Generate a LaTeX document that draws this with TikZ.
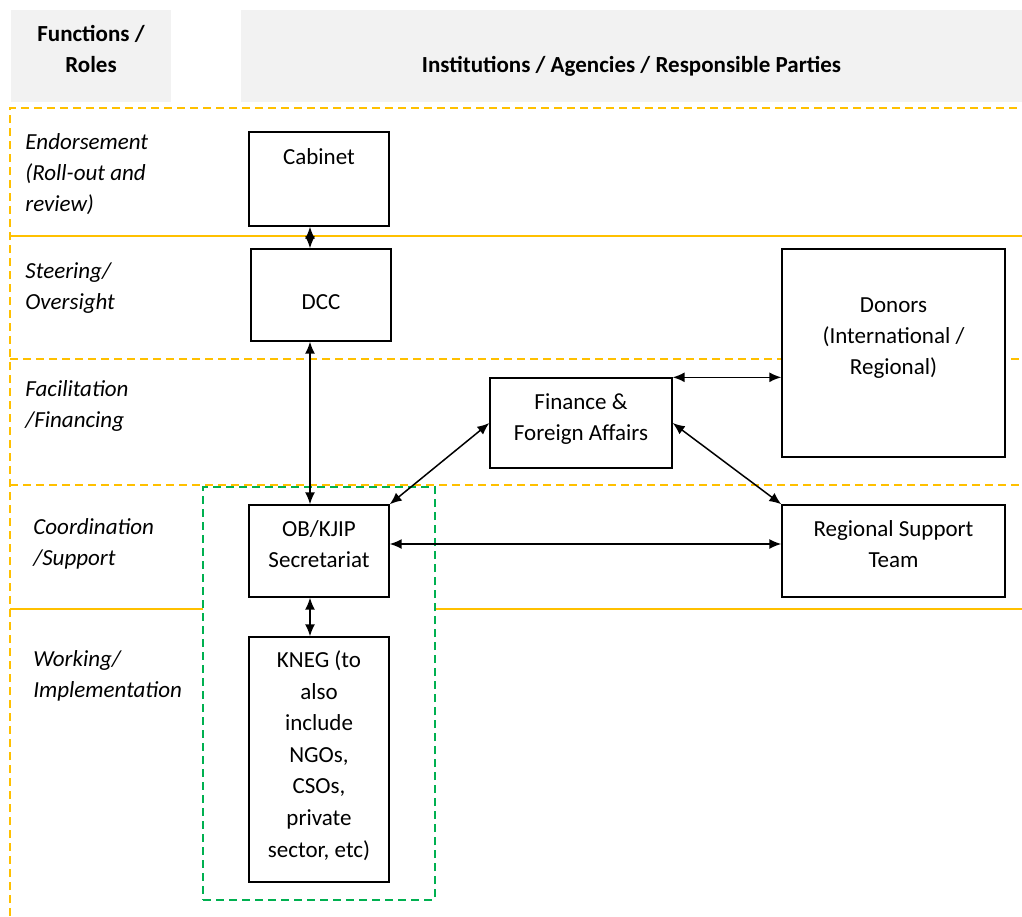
\documentclass[tikz,border=0pt]{standalone}
\usepackage{fontspec}
\setmainfont{Carlito}
\usetikzlibrary{arrows.meta,fit,backgrounds}
\definecolor{gold}{HTML}{FFC000}
\definecolor{grpgreen}{HTML}{00B050}
\definecolor{headgray}{HTML}{F2F2F2}
\begin{document}
\begin{tikzpicture}[x=0.5pt, y=-0.5pt,
    every node/.style={font=\fontsize{11.5}{15.5}\selectfont},
    box/.style={draw, fill=white, line width=0.7pt, inner sep=0pt},
    head/.style={fill=headgray, inner sep=0pt},
    boxtext/.style={align=center, inner sep=0pt},
    headtext/.style={align=center, inner sep=0pt, font=\fontsize{11.5}{15.5}\selectfont\bfseries},
    role/.style={anchor=north west, align=left, inner sep=0pt, font=\fontsize{11.5}{15.5}\selectfont\itshape},
    arr/.style={{Latex[length=6pt,width=5pt]}-{Latex[length=6pt,width=5pt]}, line width=0.75pt},
    band/.style={gold, line width=1pt},
    banddash/.style={gold, line width=0.8pt, dash pattern=on 4pt off 2.5pt},
    grp/.style={draw=grpgreen, fill=white, line width=1pt, dash pattern=on 4pt off 2.5pt,
      inner xsep=22.5pt, inner ysep=8.5pt},
  ]
  \useasboundingbox (0,0) rectangle (1022,916);

  % Header
  \node[head, minimum width=80pt, minimum height=46pt,
    label={[headtext, yshift=3.75pt]center:{Functions /\\Roles}}] (hfun) at (91,56) {};
  \node[head, minimum width=390.5pt, minimum height=46pt,
    label={[headtext, yshift=-5pt]center:Institutions / Agencies / Responsible Parties}] (hinst) at (631.5,56) {};

  % Functions / roles
  \node[role] (rend) at (25,133) {Endorsement\\(Roll-out and\\review)};
  \node[role] (rste) at (25,262) {Steering/\\Oversight};
  \node[role] (rfac) at (25,380) {Facilitation\\/Financing};
  \node[role] (rcoo) at (33,518) {Coordination\\/Support};
  \node[role] (rwor) at (33,650) {Working/\\Implementation};

  % Institutions
  \node[box, minimum width=70pt, minimum height=47pt,
    label={[boxtext, yshift=11pt]center:Cabinet}] (cab) at (319,179) {};
  \node[box, minimum width=70pt, minimum height=46pt,
    label={[boxtext, yshift=-3.5pt]center:DCC}] (dcc) at (321,295) {};
  \node[box, minimum width=91pt, minimum height=45pt,
    label={[boxtext, yshift=2pt]center:{Finance \&\\Foreign Affairs}}] (fin) at (581,423) {};
  \node[box, minimum width=111.5pt, minimum height=104pt,
    label={[boxtext, yshift=7.5pt]center:{Donors\\(International /\\Regional)}}] (don) at (893.5,353) {};
  \node[box, minimum width=70pt, minimum height=46pt,
    label={[boxtext, yshift=3.5pt]center:{OB/KJIP\\Secretariat}}] (ob) at (319,551) {};
  \node[box, minimum width=111.5pt, minimum height=46pt,
    label={[boxtext, yshift=3.5pt]center:{Regional Support\\Team}}] (reg) at (893.5,551) {};
  \node[box, minimum width=70pt, minimum height=122.5pt,
    label={[boxtext, yshift=2pt, font=\fontsize{11.5}{15.8}\selectfont]center:{KNEG (to\\also\\include\\NGOs,\\CSOs,\\private\\sector, etc)}}] (kneg) at (319,759.5) {};

  % Links
  \coordinate (spine) at (310,0);
  \draw[arr] (cab.south -| spine) -- (dcc.north -| spine);
  \draw[arr] (dcc.south -| spine) -- (ob.north -| spine);
  \draw[arr] (ob.south -| spine) -- (kneg.north -| spine);
  \draw[arr] (ob.north east) -- (fin.west);
  \draw[arr] (fin.north east) -- (fin.north east -| don.west);
  \draw[arr] (fin.east) -- (reg.north west);
  \draw[arr] ([yshift=3.5pt]ob.east) -- ([yshift=3.5pt]ob.east -| reg.west);

  % Bands and group frame
  \begin{scope}[on background layer]
    \draw[banddash] (10,916) -- (10,108) -- (1022,108);
    \draw[band] (10,236) -- (1022,236);
    \draw[banddash] (10,359) -- (1022,359);
    \draw[banddash] (10,485) -- (1022,485);
    \draw[band] (10,609) -- (1022,609);
    \node[grp, fit=(ob)(kneg)] (grpbox) {};
  \end{scope}
\end{tikzpicture}
\end{document}
